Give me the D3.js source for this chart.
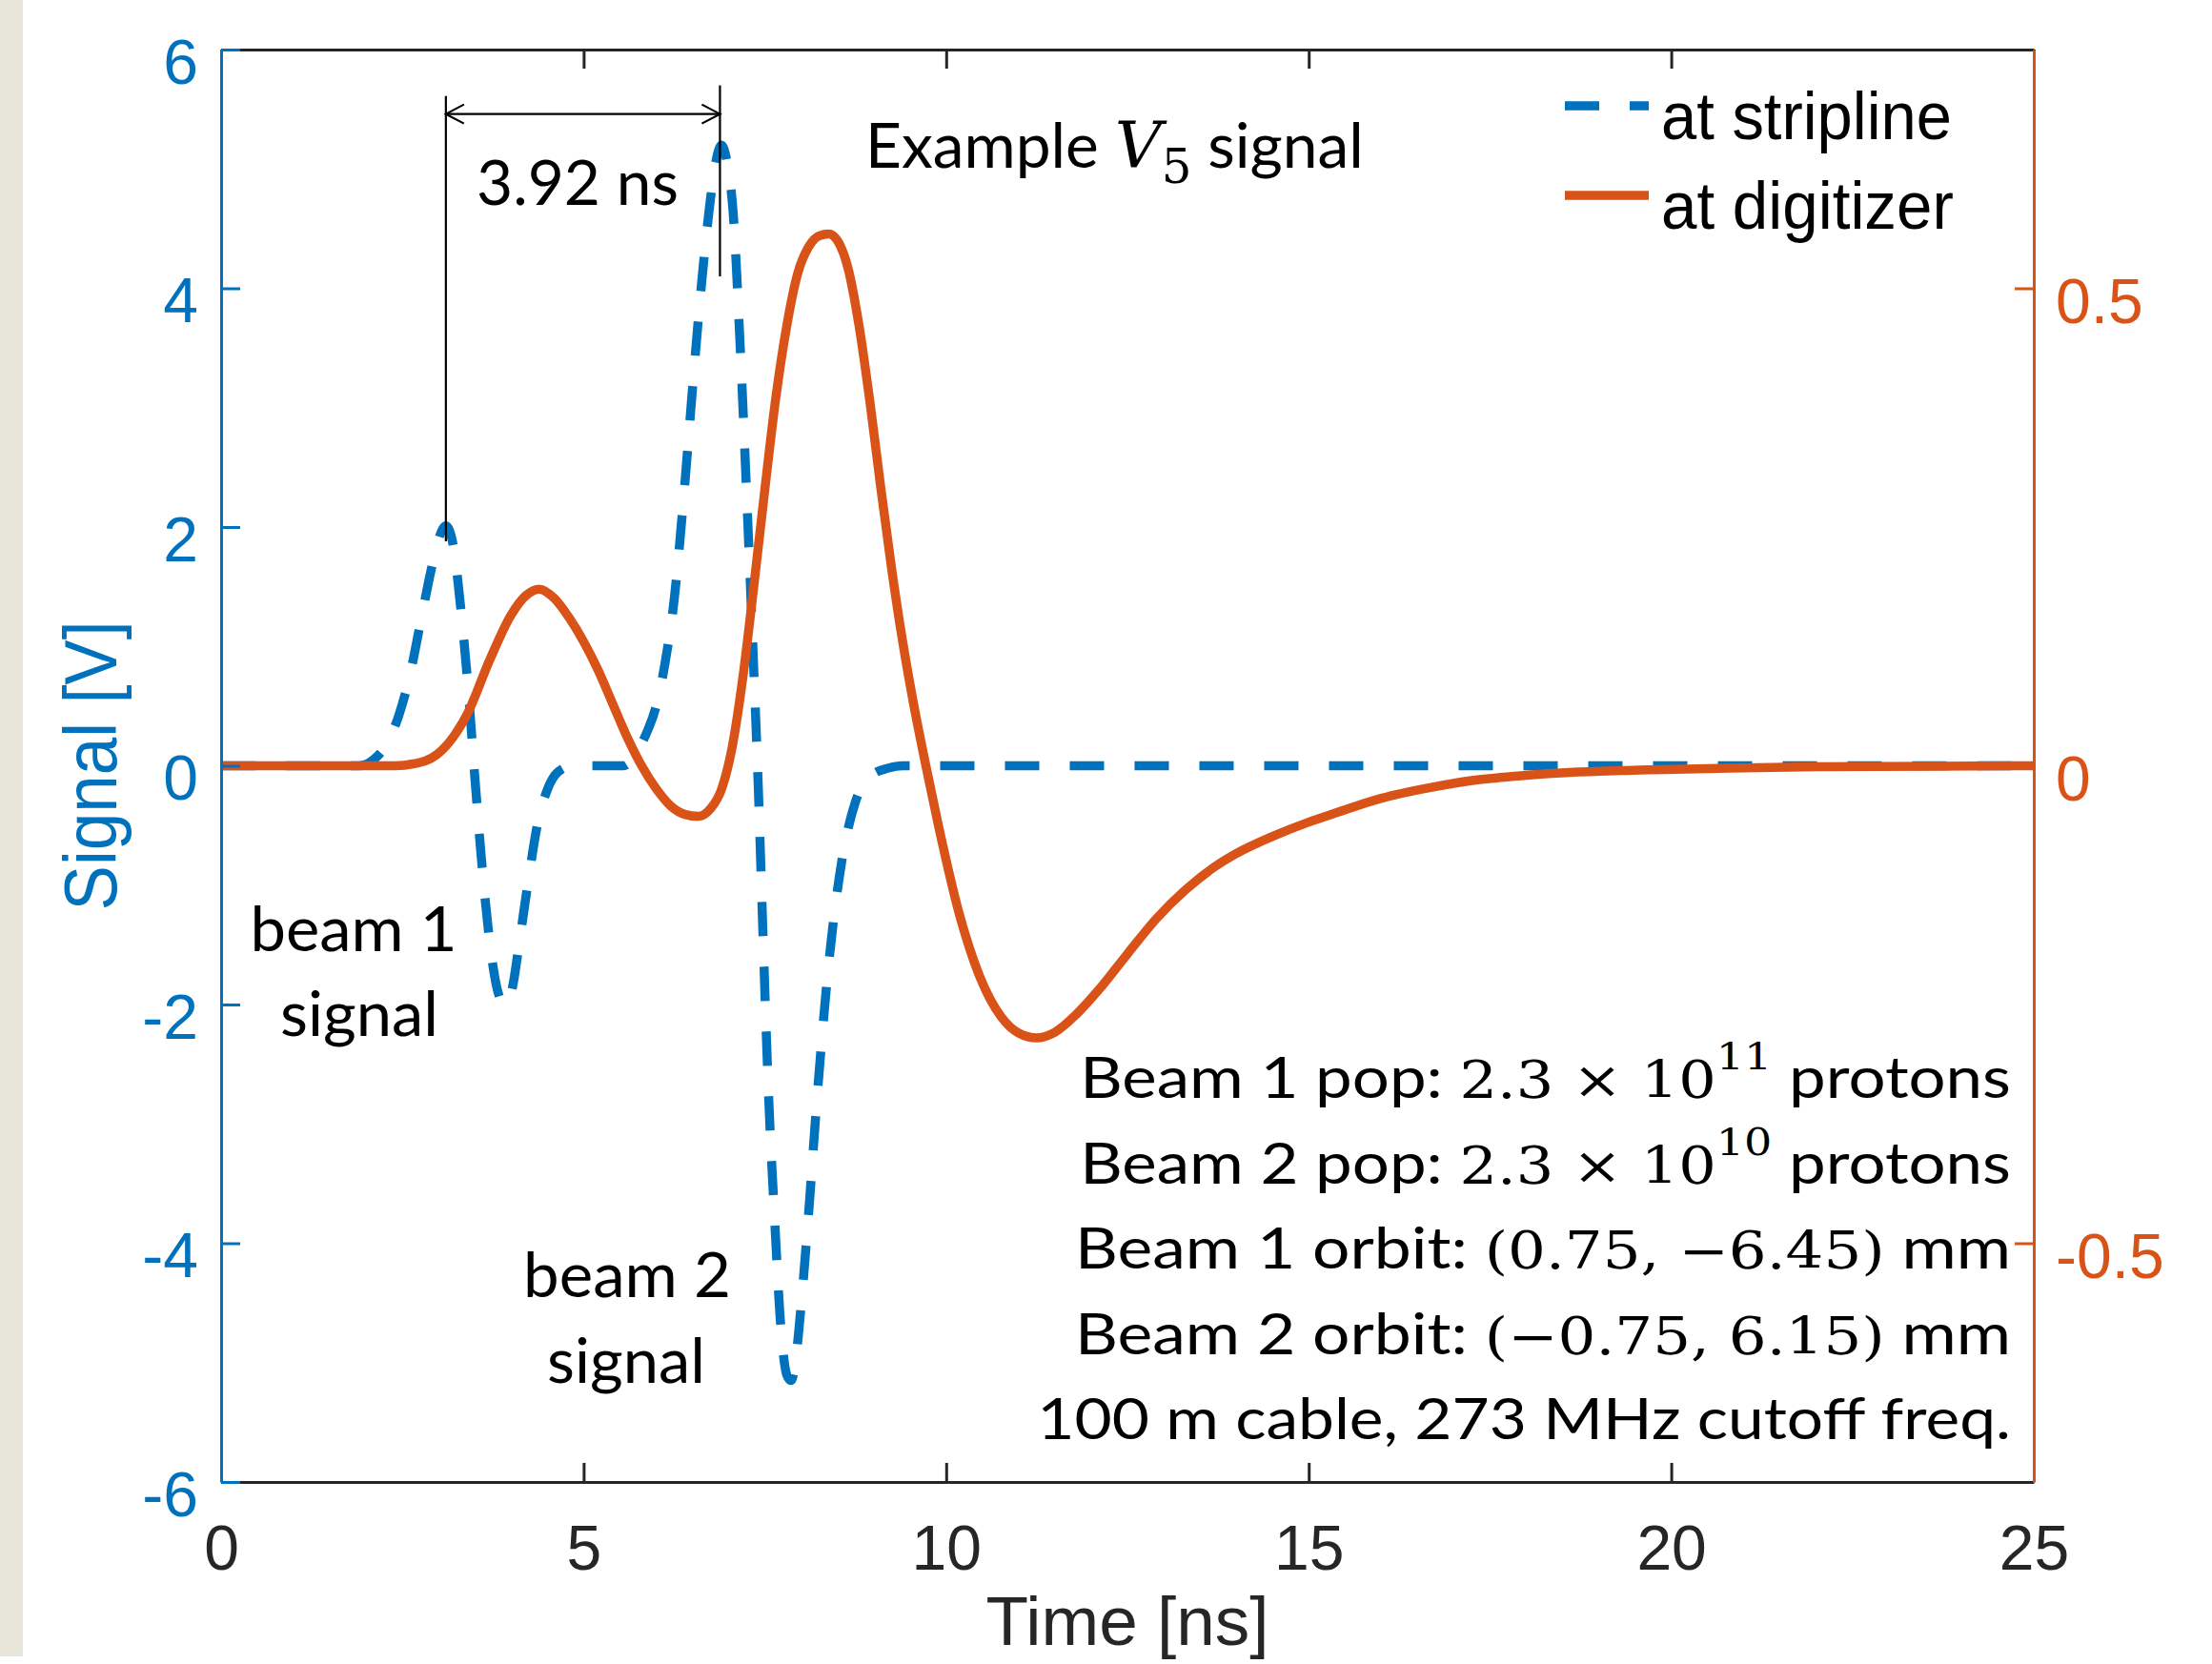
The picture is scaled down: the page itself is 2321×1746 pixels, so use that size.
<!DOCTYPE html>
<html>
<head>
<meta charset="utf-8">
<script src="https://cdn.jsdelivr.net/npm/d3@7"></script>
<style>
  body { margin: 0; background: #fff; }
  svg { display: block; }
</style>
</head>
<body>
<div id="chart"></div>
<script>
// values

// blue dashed trace, left axis (V)
var stripT = [0, 1.9, 2.1, 2.3, 2.45, 2.6, 2.75, 2.9, 3.0, 3.1, 3.2, 3.3, 3.4, 3.5, 3.6, 3.7, 3.8, 3.92,
  4.02, 4.12, 4.24, 4.36, 4.5, 4.65, 4.85, 5.55, 5.7, 5.85, 6.0, 6.12, 6.25, 6.38, 6.5, 6.62, 6.73, 6.82,
  6.9, 6.98, 7.06, 7.16, 7.26, 7.35, 7.41, 7.47, 7.55, 7.63, 7.72, 7.8, 7.86, 7.92, 7.98, 8.09, 8.23,
  8.39, 8.56, 8.75, 8.97, 9.2, 9.4, 25];
var stripV = [0, 0, 0.05, 0.2, 0.42, 0.75, 1.2, 1.65, 1.9, 2.01, 1.85, 1.35, 0.7, -0.1, -0.85, -1.45, -1.85, -2.01,
  -1.85, -1.45, -0.95, -0.5, -0.2, -0.05, 0, 0, 0.08, 0.25, 0.5, 0.85, 1.4, 2.25, 3.15, 4.0, 4.65, 5.05,
  5.2, 5.05, 4.65, 3.5, 2.1, 0.75, -0.2, -1.35, -2.75, -3.75, -4.7, -5.1, -5.15, -5.0, -4.65, -3.85, -2.7,
  -1.6, -0.8, -0.3, -0.08, -0.02, 0, 0];

// orange solid trace, right axis
var digiT = [0, 2.4, 2.65, 2.98, 3.2, 3.4, 3.7, 4.0, 4.2, 4.39, 4.6, 4.8, 5.0, 5.2, 5.4, 5.6, 5.8, 6.0,
  6.2, 6.4, 6.58, 6.75, 6.9, 7.05, 7.2, 7.35, 7.5, 7.65, 7.8, 7.95, 8.1, 8.25, 8.38, 8.5, 8.65, 8.8,
  8.95, 9.1, 9.25, 9.4, 9.55, 9.72, 9.9, 10.18, 10.47, 10.76, 11.0, 11.25, 11.5, 11.8, 12.1, 12.5,
  12.9, 13.3, 13.7, 14.0, 14.5, 15.0, 15.35, 16.0, 16.66, 17.3, 18.0, 18.6, 19.3, 20.5, 22, 25];
var digiV = [0, 0, 0.002, 0.012, 0.03, 0.055, 0.11, 0.158, 0.178, 0.185, 0.175, 0.155, 0.13, 0.1, 0.065, 0.03, 0.0, -0.024,
  -0.042, -0.051, -0.053, -0.045, -0.025, 0.02, 0.095, 0.19, 0.29, 0.385, 0.46, 0.515, 0.543, 0.555, 0.557, 0.55, 0.52, 0.46,
  0.38, 0.29, 0.205, 0.13, 0.065, 0, -0.065, -0.155, -0.222, -0.263, -0.28, -0.285, -0.279, -0.26, -0.235, -0.197,
  -0.16, -0.13, -0.106, -0.092, -0.074, -0.059, -0.05, -0.034, -0.023, -0.015, -0.01, -0.007, -0.005, -0.003, -0.001, 0];

var xTicks = [0, 5, 10, 15, 20, 25];
var leftTicks = [-6, -4, -2, 0, 2, 4, 6];
var rightTicks = [-0.5, 0, 0.5];
var seriesNames = ['at stripline', 'at digitizer'];

// dimension marks between the two blue peaks (time, top V, bottom V)
var dimTimes = [3.10, 6.88];
var dimTops = [5.61, 5.70];
var dimBottoms = [1.88, 4.10];
var dimArrowV = 5.46;

var infoLines = [
  [['Beam 1 pop: ', 't'], ['2.3 \u00d7 10', 'm'], ['11', 'sup'], [' protons', 'tb']],
  [['Beam 2 pop: ', 't'], ['2.3 \u00d7 10', 'm'], ['10', 'sup'], [' protons', 'tb']],
  [['Beam 1 orbit: ', 't'], ['(0.75, \u22126.45)', 'm'], [' mm', 't']],
  [['Beam 2 orbit: ', 't'], ['(\u22120.75, 6.15)', 'm'], [' mm', 't']],
  [['100 m cable, 273 MHz cutoff freq.', 't']]
];

(function(d3) {
  'use strict';

  var W = 2321, H = 1746;
  var plot = { left: 232, right: 2134, top: 52, bottom: 1555 };
  var blue = '#0072BD', orange = '#D95319', dark = '#262626';
  var helv = "'Liberation Sans', Arial, Helvetica, sans-serif";
  var calib = "Lato, 'Noto Sans', sans-serif";
  var mathF = "'DejaVu Serif', serif";

  var svg = d3.select('#chart').append('svg')
    .attr('width', W)
    .attr('height', H);

  svg.append('rect').attr('width', W).attr('height', H).attr('fill', '#fff');
  // slide edge at the left
  svg.append('rect').attr('x', 0).attr('y', 0).attr('width', 24).attr('height', 1738).attr('fill', '#E8E6DB');

  var x = d3.scaleLinear().domain([0, 25]).range([plot.left, plot.right]);
  var yL = d3.scaleLinear().domain([-6, 6]).range([plot.bottom, plot.top]);
  var yR = d3.scaleLinear().domain([-0.75, 0.75]).range([plot.bottom, plot.top]);

  var stripline = stripT.map(function(t, i) { return { t: t, v: stripV[i] }; });
  var digitizer = digiT.map(function(t, i) { return { t: t, v: digiV[i] }; });

  var lineL = d3.line()
    .x(function(d) { return x(d.t); })
    .y(function(d) { return yL(d.v); })
    .curve(d3.curveMonotoneX);
  var lineR = d3.line()
    .x(function(d) { return x(d.t); })
    .y(function(d) { return yR(d.v); })
    .curve(d3.curveMonotoneX);

  svg.append('path')
    .datum(stripline)
    .attr('d', lineL)
    .attr('fill', 'none')
    .attr('stroke', blue)
    .attr('stroke-width', 9.5)
    .attr('stroke-dasharray', '36 32');

  svg.append('path')
    .datum(digitizer)
    .attr('d', lineR)
    .attr('fill', 'none')
    .attr('stroke', orange)
    .attr('stroke-width', 9.5)
    .attr('stroke-linejoin', 'round');

  // axes
  function styleAxis(g, color) {
    g.attr('color', color)
      .attr('font-family', helv)
      .attr('font-size', 66);
    g.select('.domain').attr('stroke-width', 3);
    g.selectAll('.tick line').attr('stroke-width', 3);
  }

  var gTop = svg.append('g')
    .attr('transform', 'translate(0,' + plot.top + ')')
    .call(d3.axisTop(x).tickValues(xTicks).tickFormat('').tickSizeInner(-20).tickSizeOuter(0));
  styleAxis(gTop, dark);

  var gBottom = svg.append('g')
    .attr('transform', 'translate(0,' + plot.bottom + ')')
    .call(d3.axisBottom(x).tickValues(xTicks).tickFormat(function(d) { return String(d); })
      .tickSizeInner(-20).tickSizeOuter(0));
  styleAxis(gBottom, dark);
  gBottom.selectAll('.tick text').attr('y', 92).attr('dy', 0);

  var gLeft = svg.append('g')
    .attr('transform', 'translate(' + plot.left + ',0)')
    .call(d3.axisLeft(yL).tickValues(leftTicks).tickFormat(function(d) { return String(d); })
      .tickSizeInner(-20).tickSizeOuter(0).tickPadding(24));
  styleAxis(gLeft, blue);
  gLeft.selectAll('.tick text').attr('dy', 35);

  var gRight = svg.append('g')
    .attr('transform', 'translate(' + plot.right + ',0)')
    .call(d3.axisRight(yR).tickValues(rightTicks).tickFormat(function(d) { return String(d); })
      .tickSizeInner(-20).tickSizeOuter(0).tickPadding(23));
  styleAxis(gRight, orange);
  gRight.selectAll('.tick text').attr('dy', 36);

  // text helper: squeeze to the width seen in the picture
  function fitText(sel, px, py, width, sy) {
    var w = sel.node().getBBox().width;
    sel.attr('transform', 'translate(' + px + ',' + py + ') scale(' + (width / w) + ',' + (sy || 1) + ')');
  }

  // axis labels
  var xLabel = svg.append('text')
    .attr('text-anchor', 'middle')
    .attr('font-family', helv)
    .attr('font-size', 70)
    .attr('fill', dark)
    .text('Time [ns]');
  fitText(xLabel, (plot.left + plot.right) / 2, 1726, 297, 1.04);

  svg.append('text')
    .attr('transform', 'translate(122,' + ((plot.top + plot.bottom) / 2) + ') rotate(-90) scale(1,1.1)')
    .attr('text-anchor', 'middle')
    .attr('font-family', helv)
    .attr('font-size', 71)
    .attr('fill', blue)
    .text('Signal [V]');

  // legend
  var legend = svg.append('g');
  var legendY = [111, 205];
  var legendText = [146, 240];
  var legendWidth = [305, 307];
  seriesNames.forEach(function(name, i) {
    legend.append('line')
      .attr('x1', 1642).attr('x2', 1730)
      .attr('y1', legendY[i]).attr('y2', legendY[i])
      .attr('stroke', i === 0 ? blue : orange)
      .attr('stroke-width', 9.5)
      .attr('stroke-dasharray', i === 0 ? '36 32' : null);
    var lt = legend.append('text')
      .attr('font-family', helv)
      .attr('font-size', 64)
      .attr('fill', '#000')
      .text(name);
    fitText(lt, 1743, legendText[i], legendWidth[i], 1.1);
  });

  // dimension marks
  var dim = svg.append('g').attr('stroke', '#000').attr('stroke-width', 2.2).attr('fill', 'none');
  dimTimes.forEach(function(t, i) {
    dim.append('line')
      .attr('x1', x(t)).attr('x2', x(t))
      .attr('y1', yL(dimTops[i])).attr('y2', yL(dimBottoms[i]));
  });
  var ax0 = x(dimTimes[0]), ax1 = x(dimTimes[1]), ay = yL(dimArrowV);
  dim.append('line').attr('x1', ax0).attr('x2', ax1).attr('y1', ay).attr('y2', ay);
  dim.append('path').attr('d', 'M' + (ax0 + 19) + ',' + (ay - 10) + 'L' + ax0 + ',' + ay + 'L' + (ax0 + 19) + ',' + (ay + 10));
  dim.append('path').attr('d', 'M' + (ax1 - 19) + ',' + (ay - 10) + 'L' + ax1 + ',' + ay + 'L' + (ax1 - 19) + ',' + (ay + 10));

  function plainText(str, anchor, size) {
    return svg.append('text')
      .attr('text-anchor', anchor)
      .attr('font-family', calib)
      .attr('font-size', size)
      .attr('fill', '#000')
      .text(str);
  }

  fitText(plainText('3.92 ns', 'start', 66), 500, 214.5, 212);
  fitText(plainText('beam 1', 'middle', 66), 371, 998, 217);
  fitText(plainText('signal', 'middle', 66), 377, 1087, 166);
  fitText(plainText('beam 2', 'middle', 66), 658, 1361, 218);
  fitText(plainText('signal', 'middle', 66), 657, 1450.6, 166);

  var title = svg.append('text').attr('fill', '#000');
  title.append('tspan').attr('font-family', calib).attr('font-size', 66).text('Example ');
  title.append('tspan').attr('font-family', mathF).attr('font-style', 'italic').attr('font-size', 68).text('V');
  title.append('tspan').attr('font-family', mathF).attr('font-size', 50).attr('dy', 16).text('5');
  title.append('tspan').attr('font-family', calib).attr('font-size', 66).attr('dy', -16).text(' signal');
  fitText(title, 908, 176, 523);

  var infoBase = [1151.7, 1241.7, 1331, 1420.7, 1510];
  var infoWidth = [977, 977, 982, 982, 1022];
  infoLines.forEach(function(parts, i) {
    var t = svg.append('text').attr('text-anchor', 'end').attr('fill', '#000');
    parts.forEach(function(p) {
      var s = t.append('tspan').text(p[0]);
      if (p[1] === 'm') {
        s.attr('font-family', mathF).attr('font-size', 54);
      } else if (p[1] === 'sup') {
        s.attr('font-family', mathF).attr('font-size', 40).attr('dy', -30);
      } else {
        s.attr('font-family', calib).attr('font-size', 60);
        if (p[1] === 'tb') s.attr('dy', 30);
      }
    });
    fitText(t, 2110, infoBase[i], infoWidth[i]);
  });

})(window.d3);
</script>
</body>
</html>
